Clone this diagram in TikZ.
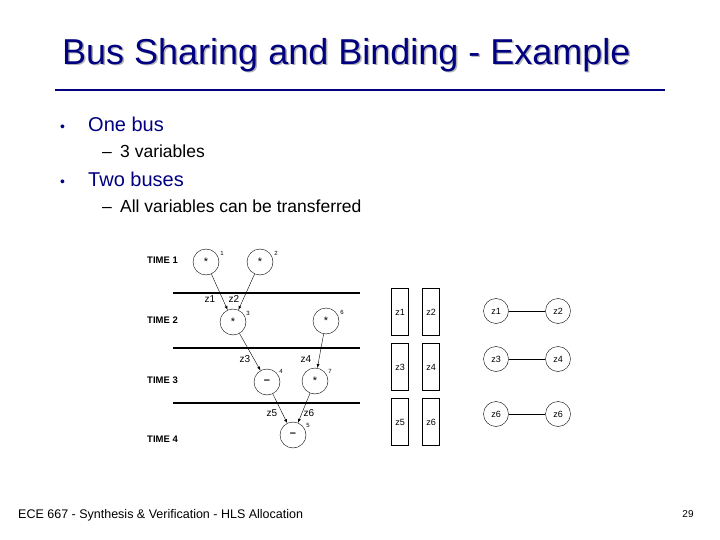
\documentclass[tikz,border=0pt]{standalone}
\usepackage{fontspec}
\setmainfont{Liberation Sans}
\definecolor{navy}{RGB}{0,0,128}
\begin{document}
\begin{tikzpicture}[x=1pt,y=-1pt,
 op/.style={circle,draw,thin,minimum size=26pt,inner sep=0pt,font=\fontsize{11}{11}\selectfont},
 vc/.style={circle,draw,thin,minimum size=25pt,inner sep=0pt,font=\fontsize{9}{9}\selectfont},
 reg/.style={draw,line width=1.6pt,minimum width=17pt,minimum height=47pt,inner sep=0pt,font=\fontsize{9}{9}\selectfont},
 tl/.style={anchor=west,font=\bfseries\fontsize{9.5}{9.5}\selectfont},
 num/.style={font=\fontsize{6}{6}\selectfont},
 zl/.style={font=\fontsize{10}{10}\selectfont},
 ar/.style={-latex,thin},
 bus/.style={line width=2.2pt},
 bl/.style={anchor=west,inner sep=0pt,text=navy,font=\fontsize{20}{20}\selectfont},
 sb/.style={anchor=west,inner sep=0pt,font=\fontsize{17.5}{17.5}\selectfont}]
\useasboundingbox (0,0) rectangle (720,540);
\node[anchor=west,inner sep=0pt,text=gray!60,font=\fontsize{36}{36}\selectfont] (ts) at (63.5,56.5) {Bus Sharing and Binding - Example};
\node[anchor=west,inner sep=0pt,text=navy,font=\fontsize{36}{36}\selectfont] (t) at (62,55) {Bus Sharing and Binding - Example};
\draw[navy,line width=2.5pt] (55,90) coordinate (l1) -- (665,90) coordinate (l2);
\node[bl] (b1) at (60,124) {\makebox[28pt][l]{\fontsize{14}{14}\selectfont •}One bus};
\node[sb] (s1) at (102,151) {\makebox[18pt][l]{–}3 variables};
\node[bl] (b2) at (60,179) {\makebox[28pt][l]{\fontsize{14}{14}\selectfont •}Two buses};
\node[sb] (s2) at (102,206) {\makebox[18pt][l]{–}All variables can be transferred};
\node[anchor=west,inner sep=0pt,font=\fontsize{12.5}{12.5}\selectfont] (f) at (18,515) {ECE 667 - Synthesis \& Verification - HLS Allocation};
\node[font=\fontsize{10}{10}\selectfont] (p) at (688,514) {29};
% time labels
\node[tl,inner sep=0pt] (T1) at (147,260) {TIME 1};
\node[tl,inner sep=0pt] (T2) at (147,320) {TIME 2};
\node[tl,inner sep=0pt] (T3) at (147,380) {TIME 3};
\node[tl,inner sep=0pt] (T4) at (147,439) {TIME 4};
\draw[bus] (173,293) coordinate (a1) -- (360,293) coordinate (a2);
\draw[bus] (173,348) coordinate (b1e) -- (360,348) coordinate (b2e);
\draw[bus] (173,403) coordinate (c1) -- (360,403) coordinate (c2);
% ops
\node[op] (n1) at (206,262) {*};
\node[op] (n2) at (260,262) {*};
\node[op] (n3) at (233,322) {*};
\node[op] (n6) at (326,321) {*};
\node[op] (n4) at (267,382) {\textbf{--}};
\node[op] (n7) at (315,381) {*};
\node[op] (n5) at (293,435) {\textbf{--}};
\node[num] (m1) at (222,253) {1};
\node[num] (m2) at (276,253) {2};
\node[num] (m3) at (248,313) {3};
\node[num] (m6) at (342,312) {6};
\node[num] (m4) at (281,371) {4};
\node[num] (m7) at (330,371) {7};
\node[num] (m5) at (308,425) {5};
\draw[ar] (n1) -- (n3); \draw[ar] (n2) -- (n3);
\draw[ar] (n3) -- (n4); \draw[ar] (n6) -- (n7);
\draw[ar] (n4) -- (n5); \draw[ar] (n7) -- (n5);
\node[zl] (z1) at (210,299) {z1};
\node[zl] (z2) at (234,299) {z2};
\node[zl] (z3) at (245,359) {z3};
\node[zl] (z4) at (306,359) {z4};
\node[zl] (z5) at (272,413) {z5};
\node[zl] (z6) at (309,413) {z6};
% registers
\node[reg] (r1) at (400,312) {z1};
\node[reg] (r2) at (431,312) {z2};
\node[reg] (r3) at (400,367) {z3};
\node[reg] (r4) at (431,367) {z4};
\node[reg] (r5) at (400,422) {z5};
\node[reg] (r6) at (431,422) {z6};
% compat graph
\node[vc] (v1) at (496,311) {z1};
\node[vc] (v2) at (558,311) {z2};
\node[vc] (v3) at (496,359) {z3};
\node[vc] (v4) at (558,359) {z4};
\node[vc] (v5) at (496,414) {z6};
\node[vc] (v6) at (558,414) {z6};
\draw[thin] (v1) -- (v2); \draw[thick] (v3) -- (v4); \draw[thin] (v5) -- (v6);
\end{tikzpicture}
\end{document}
